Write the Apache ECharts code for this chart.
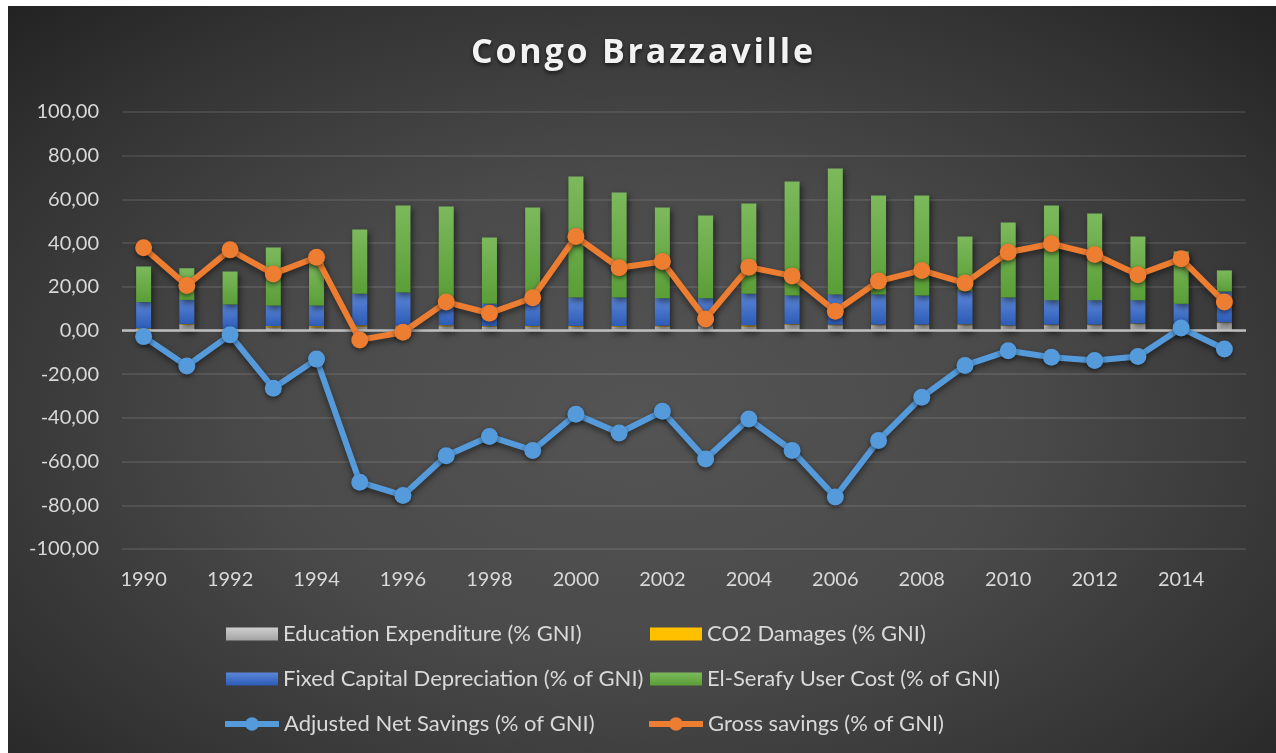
<!DOCTYPE html>
<html>
<head>
<meta charset="utf-8">
<script src="https://cdn.jsdelivr.net/npm/echarts@6/dist/echarts.min.js"></script>
<style>
  html, body { margin: 0; padding: 0; background: #fff; }
  #chart {
    position: absolute; left: 8px; top: 6px; width: 1268px; height: 747px;
    background: radial-gradient(ellipse 75% 80% at 50% 55%, #545454 0%, #4a4a4a 40%, #333 75%, #1f1f1f 100%);
  }
  /* title kept as html so it can get the letter spacing of the original */
  #title {
    position: absolute; left: 8px; width: 1268px; top: 27px; line-height: 44px;
    text-align: center; color: #f2f2f2; font: bold 34px "Open Sans", sans-serif;
    letter-spacing: 2.8px; text-indent: 2.8px;
    text-shadow: 0 2px 4px rgba(0,0,0,0.65);
  }
</style>
</head>
<body>
<div id="chart"></div>
<div id="title">Congo Brazzaville</div>
<script>
// years and series
const years = ["1990","1991","1992","1993","1994","1995","1996","1997","1998","1999","2000","2001","2002",
  "2003","2004","2005","2006","2007","2008","2009","2010","2011","2012","2013","2014","2015"];
const education = [0, 2.7, 0, 1.4, 1.4, 1.8, 1.8, 1.9, 1.7, 1.7, 1.7, 1.6, 1.8,
  2.0, 1.8, 2.6, 2.4, 2.4, 2.4, 2.4, 2.0, 2.4, 2.4, 2.9, 2.5, 3.4];
const co2 = [1.0, 0.3, 0.6, 0.6, 0.6, 0.6, 0.5, 0.5, 0.3, 0.4, 0.4, 0.4, 0.4,
  0.3, 0.6, 0.3, 0.3, 0.3, 0.3, 0.4, 0.3, 0.3, 0.3, 0.3, 0.3, 0.3];
const fixedCapital = [12.0, 11.0, 11.3, 9.4, 9.4, 14.4, 15.1, 12.6, 10.2, 12.9, 13.0, 13.1, 12.6,
  12.5, 14.4, 13.1, 13.8, 13.8, 13.3, 15.2, 12.8, 11.2, 11.2, 10.7, 9.4, 14.1];
const elSerafy = [16.3, 14.5, 15.1, 26.6, 19.6, 29.4, 39.8, 41.8, 30.4, 41.3, 55.4, 48.1, 41.5,
  37.8, 41.3, 52.2, 57.6, 45.3, 45.8, 25.0, 34.3, 43.3, 39.6, 29.1, 24.0, 9.7];
const adjustedNet = [-2.8, -16.2, -2.0, -26.4, -13.1, -69.4, -75.5, -57.3, -48.5, -54.9, -38.3, -46.9, -37.0,
  -58.8, -40.5, -54.9, -76.2, -50.3, -30.5, -16.0, -9.3, -12.2, -13.7, -11.9, 1.1, -8.5];
const grossSavings = [37.9, 20.6, 36.9, 25.9, 33.5, -4.3, -0.8, 13.0, 7.9, 15.0, 43.0, 28.7, 31.6,
  5.3, 29.0, 25.0, 8.8, 22.6, 27.5, 21.7, 35.8, 39.7, 34.8, 25.5, 32.8, 13.0];

const names = {
  edu: "Education Expenditure (% GNI)",
  co2: "CO2 Damages (% GNI)",
  fixed: "Fixed Capital Depreciation (% of GNI)",
  serafy: "El-Serafy User Cost (% of GNI)",
  ans: "Adjusted Net Savings (% of GNI)",
  gross: "Gross savings (% of GNI)"
};

const grad = (top, bottom) => new echarts.graphic.LinearGradient(0, 0, 0, 1, [
  { offset: 0, color: top }, { offset: 1, color: bottom }
]);

const barShadow = { shadowBlur: 6, shadowColor: "rgba(0,0,0,0.55)", shadowOffsetX: 2, shadowOffsetY: 3 };
const txt = "#d9d9d9";
const font = "Lato";

const bar = (name, data, color) => ({
  name, type: "bar", stack: "cost", data, barWidth: 15,
  itemStyle: Object.assign({ color }, barShadow)
});

const line = (name, data, color) => ({
  name, type: "line", data, symbol: "circle", symbolSize: 17, z: 5,
  lineStyle: { color, width: 6, shadowBlur: 6, shadowColor: "rgba(0,0,0,0.5)", shadowOffsetY: 3 },
  itemStyle: { color, shadowBlur: 5, shadowColor: "rgba(0,0,0,0.5)", shadowOffsetY: 2 }
});

// legend: two columns, bars on rows 1-2, lines on row 3
const legendText = { color: txt, fontFamily: font, fontSize: 22, lineHeight: 22 };
const barLegend = (left, data) => ({
  orient: "vertical", top: 612, left, itemWidth: 52, itemHeight: 13, itemGap: 23,
  textStyle: legendText, data
});
const lineLegend = (left, data) => ({
  orient: "vertical", top: 702, left, itemWidth: 54, itemHeight: 17,
  lineStyle: { width: 6 }, textStyle: legendText, data
});

const chart = echarts.init(document.getElementById("chart"));
chart.setOption({
  backgroundColor: "transparent",
  animation: false,
  legend: [
    barLegend(213, [{ name: names.edu, icon: "rect" }, { name: names.fixed, icon: "rect" }]),
    barLegend(637, [{ name: names.co2, icon: "rect" }, { name: names.serafy, icon: "rect" }]),
    lineLegend(209, [names.ans]),
    lineLegend(633, [names.gross])
  ],
  grid: { left: 114, right: 30, top: 106, bottom: 204 },
  xAxis: {
    type: "category", data: years,
    axisLine: { show: false }, axisTick: { show: false },
    axisLabel: { color: txt, fontFamily: font, fontSize: 20, interval: 1, margin: 21 }
  },
  yAxis: {
    type: "value", min: -100, max: 100, interval: 20,
    axisLabel: {
      color: txt, fontFamily: font, fontSize: 20, margin: 23,
      formatter: v => v.toFixed(2).replace(".", ",")
    },
    splitLine: { lineStyle: { color: "rgba(255,255,255,0.13)", width: 1.5 } }
  },
  series: [
    Object.assign(bar(names.edu, education, grad("#cfcfcf", "#a3a3a3")), {
      markLine: {
        silent: true, symbol: "none", label: { show: false },
        lineStyle: { color: "#bfbfbf", width: 2.5, type: "solid" },
        data: [{ yAxis: 0 }]
      }
    }),
    bar(names.co2, co2, "#ffc000"),
    bar(names.fixed, fixedCapital, grad("#5b86d8", "#2d5cb6")),
    bar(names.serafy, elSerafy, grad("#7cb95c", "#5a9e37")),
    line(names.ans, adjustedNet, "#559bdc"),
    line(names.gross, grossSavings, "#ed7d31")
  ]
});
</script>
</body>
</html>
